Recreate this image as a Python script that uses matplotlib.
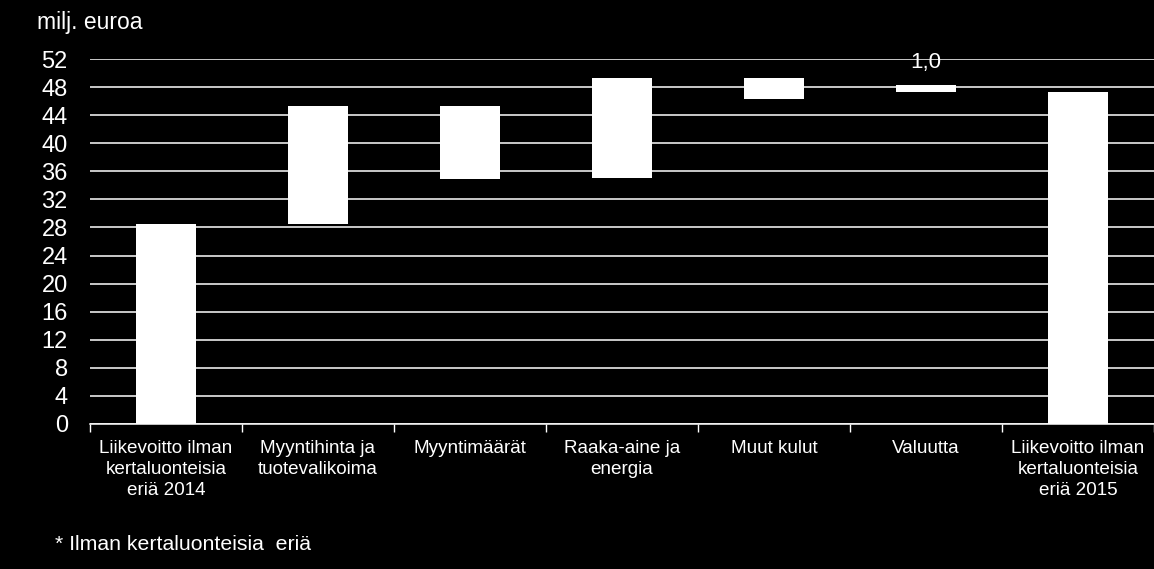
import numpy as np
import matplotlib.pyplot as plt

categories = ['Liikevoitto ilman\nkertaluonteisia\neriä 2014',
              'Myyntihinta ja\ntuotevalikoima',
              'Myyntimäärät',
              'Raaka-aine ja\nenergia',
              'Muut kulut',
              'Valuutta',
              'Liikevoitto ilman\nkertaluonteisia\neriä 2015']
bar_low = [0, 28.5, 34.9, 35.0, 46.4, 47.3, 0]
bar_high = [28.5, 45.3, 45.3, 49.3, 49.3, 48.4, 47.3]
yticks = list(range(0, 53, 4))

plt.rcParams['font.family'] = ['Liberation Sans', 'DejaVu Sans']

fig = plt.figure(figsize=(11.54, 5.69), dpi=100, facecolor='black')
ax = fig.add_axes([90 / 1154, 1 - 423.7 / 569, 1 - 90 / 1154, (423.7 - 59.3) / 569])
ax.set_facecolor('black')

x = np.arange(len(categories))
heights = np.array(bar_high) - np.array(bar_low)
ax.bar(x, heights, bottom=bar_low, width=0.4, color='white', zorder=3)

ax.set_xlim(-0.5, len(categories) - 0.5)
ax.set_ylim(0, 52)
ax.set_yticks(yticks)
ax.yaxis.grid(True, color='white', linewidth=1.1, zorder=1)
ax.tick_params(axis='y', length=0, colors='white', labelsize=17, pad=16)

ax.set_xticks(x)
ax.set_xticklabels(categories, color='white', fontsize=13.6, linespacing=1.3)
ax.set_xticks(np.arange(len(categories) + 1) - 0.5, minor=True)
ax.tick_params(axis='x', which='major', length=0, pad=12)
ax.tick_params(axis='x', which='minor', length=6, color='white', width=1)

for side in ['left', 'right', 'top']:
    ax.spines[side].set_visible(False)
ax.spines['bottom'].set_color('white')
ax.spines['bottom'].set_linewidth(1.1)

# value labels (white, mostly hidden behind the bars as in the original)
ax.text(4, (bar_low[4] + bar_high[4]) / 2, '-2,9', color='white', fontsize=16,
        ha='center', va='center', zorder=2)
ax.annotate('1,0', (5, bar_high[5]), xytext=(0, 8), textcoords='offset points',
            color='white', fontsize=16, ha='center', va='bottom')

fig.text(37 / 1154, 1 - 23 / 569, 'milj. euroa', color='white', fontsize=16.5,
         ha='left', va='center')
fig.text(55 / 1154, 1 - 545 / 569, '* Ilman kertaluonteisia  eriä', color='white',
         fontsize=15.3, ha='left', va='center')

fig.savefig('out.png', dpi=100, facecolor='black')
